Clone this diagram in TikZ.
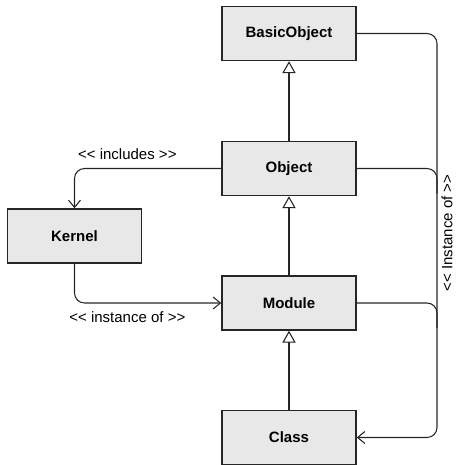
\documentclass[tikz,border=0pt]{standalone}
\usepackage{fontspec}
\setmainfont{Liberation Sans}
\usepackage{tikz}
\usetikzlibrary{arrows.meta}
\tikzset{
BOX/.style ={draw=black!85,line width=1.1pt,fill=black!9,minimum width=100.5pt,minimum height=40.5pt,inner sep=0pt,font=\fontsize{11.25}{13}\selectfont\bfseries},
LINK/.style ={draw=black!85,line width=0.8pt,rounded corners=7.5pt},
GEN/.style ={LINK,-{Triangle[length=9pt,width=10pt,fill=white]}},
DEP/.style ={LINK,-{Straight Barb[length=5.5pt,width=9pt]}},
TEXTLABEL/.style ={font=\fontsize{11.25}{13}\selectfont,inner sep=0pt},
}
\newcommand{\stereo}[1]{{<}{<} #1 {>}{>}}
\begin{document}
\begin{tikzpicture} %ruby object model
[x=0.75pt, y=-0.75pt]
	\useasboundingbox (0,0) rectangle (456,465);
	\node[BOX] (basicobject) at (289,33.5) {BasicObject};
	\node[BOX] (object) at (289,168.5) {Object};
	\node[BOX] (module) at (289,303) {Module};
	\node[BOX] (class) at (289,437.5) {Class};
	\node[BOX] (kernel) at (74.5,236) {Kernel};
	\coordinate (rail) at (437,0);
	\draw[GEN] (object.north) -- (basicobject.south);
	\draw[GEN] (module.north) -- (object.south);
	\draw[GEN] (class.north) -- (module.south);
	\draw[DEP] (object.west) -| node[TEXTLABEL,pos=0.32,yshift=10.5pt] (includes) {\stereo{includes}} (kernel.north);
	\draw[DEP] (kernel.south) |- node[TEXTLABEL,pos=0.68,yshift=-10.5pt] (instanceof) {\stereo{instance of}} (module.west);
	\draw[DEP] (basicobject.east) -- (basicobject.east -| rail) |- (class.east);
	\draw[LINK] (object.east) -- (object.east -| rail) -- ++(0,25);
	\draw[LINK] (module.east) -- (module.east -| rail) -- ++(0,25);
	\node[TEXTLABEL,rotate=90] (instanceofrail) at (447,233) {\stereo{Instance of}};
\end{tikzpicture}
\end{document}
